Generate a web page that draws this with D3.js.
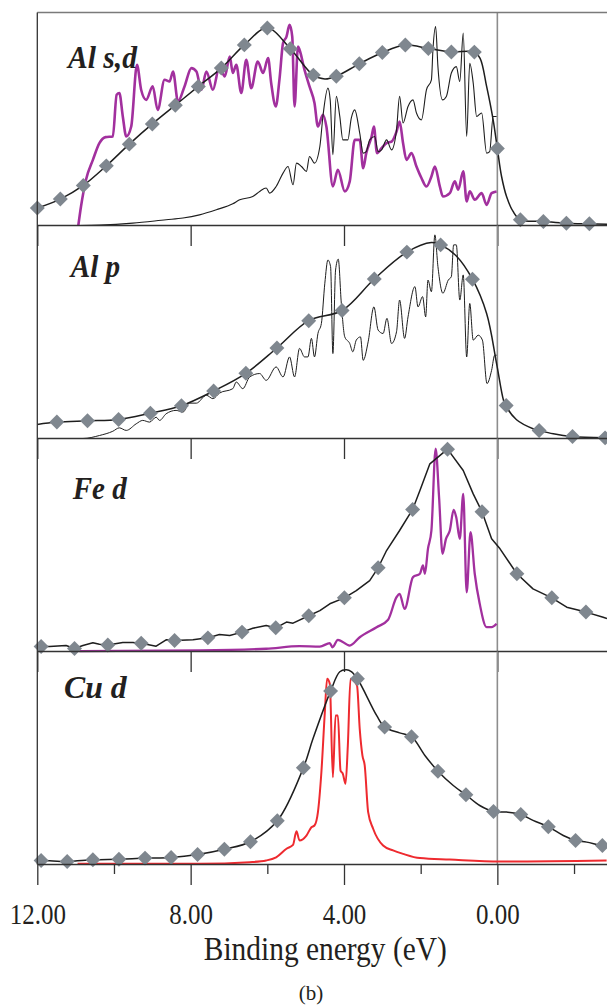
<!DOCTYPE html>
<html>
<head>
<meta charset="utf-8">
<script src="https://cdn.jsdelivr.net/npm/d3@7"></script>
<style>
  body { margin: 0; background: #fff; }
  svg { display: block; }
</style>
</head>
<body>
<div id="chart"></div>
<script>
// ---- data: [binding energy (eV), intensity (0..1 of panel height)] ----
var panelNames = ["Al s,d", "Al p", "Fe d", "Cu d"];
var tickMajor = [12, 8, 4, 0];
var tickMinor = [10, 6, 2, -2];
var axisTitle = "Binding energy (eV)";
var caption = "(b)";

// Al s,d
var alSdMarks = [[12,0.082],[11.4,0.124],[10.8,0.188],[10.2,0.280],[9.6,0.382],[9.0,0.477],[8.4,0.565],[7.8,0.653],[7.2,0.739],[6.6,0.848],[6.0,0.927],[5.4,0.830],[4.8,0.706],[4.2,0.701],[3.6,0.759],[3.0,0.812],[2.4,0.847],[1.8,0.831],[1.2,0.815],[0.6,0.814],[0,0.361],[-0.6,0.027],[-1.2,0.019],[-1.8,0.011],[-2.4,0.008]];
var alSdBroad = [[12,0.082],[11.4,0.124],[10.8,0.188],[10.2,0.280],[9.6,0.382],[9.0,0.477],[8.4,0.565],[7.8,0.653],[7.2,0.739],[6.6,0.848],[6.0,0.927],[5.4,0.830],[4.8,0.706],[4.5,0.688],[4.2,0.701],[3.6,0.759],[3.0,0.812],[2.4,0.847],[1.8,0.831],[1.2,0.815],[0.6,0.814],[0.45,0.785],[0.28,0.653],[0.11,0.496],[0,0.361],[-0.11,0.230],[-0.24,0.136],[-0.41,0.066],[-0.6,0.027],[-1.2,0.019],[-1.8,0.011],[-2.4,0.008],[-2.86,0.006]];
var alSdPurple = [[10.93,0.0],[10.86,0.089],[10.73,0.215],[10.55,0.308],[10.38,0.387],[10.22,0.415],[10.03,0.418],[9.93,0.614],[9.86,0.622],[9.77,0.512],[9.68,0.418],[9.55,0.465],[9.40,0.754],[9.29,0.636],[9.16,0.590],[8.99,0.653],[8.86,0.543],[8.68,0.684],[8.55,0.676],[8.46,0.723],[8.33,0.582],[8.16,0.653],[7.98,0.739],[7.85,0.723],[7.72,0.637],[7.59,0.723],[7.42,0.637],[7.25,0.746],[7.11,0.700],[6.98,0.793],[6.90,0.716],[6.81,0.754],[6.68,0.622],[6.55,0.778],[6.42,0.645],[6.25,0.770],[6.11,0.716],[5.98,0.786],[5.90,0.669],[5.78,0.559],[5.68,0.692],[5.59,0.856],[5.50,0.887],[5.42,0.942],[5.35,0.887],[5.29,0.559],[5.20,0.840],[5.16,0.825],[5.03,0.731],[4.90,0.653],[4.77,0.575],[4.68,0.465],[4.55,0.520],[4.46,0.465],[4.29,0.183],[4.16,0.262],[3.98,0.160],[3.85,0.207],[3.72,0.402],[3.59,0.402],[3.50,0.269],[3.42,0.340],[3.28,0.418],[3.22,0.465],[3.14,0.340],[3.02,0.363],[2.89,0.387],[2.76,0.394],[2.63,0.441],[2.55,0.488],[2.46,0.387],[2.37,0.308],[2.24,0.340],[2.11,0.277],[1.98,0.223],[1.85,0.183],[1.72,0.230],[1.63,0.277],[1.50,0.183],[1.42,0.136],[1.24,0.152],[1.11,0.207],[1.02,0.168],[0.89,0.254],[0.80,0.113],[0.72,0.160],[0.59,0.121],[0.41,0.152],[0.28,0.097],[0.15,0.152],[0.02,0.160]];
var alSdBlack = [[10.9,0.0],[10.38,0.002],[9.51,0.011],[8.64,0.027],[8.20,0.035],[7.77,0.050],[7.33,0.074],[6.90,0.102],[6.72,0.121],[6.38,0.136],[6.20,0.160],[6.03,0.176],[5.94,0.152],[5.77,0.183],[5.59,0.246],[5.46,0.277],[5.33,0.191],[5.24,0.293],[5.11,0.277],[4.98,0.254],[4.90,0.324],[4.77,0.293],[4.63,0.371],[4.55,0.512],[4.42,0.645],[4.36,0.590],[4.29,0.332],[4.20,0.606],[4.11,0.512],[4.03,0.402],[3.90,0.402],[3.81,0.504],[3.72,0.543],[3.59,0.434],[3.50,0.340],[3.42,0.347],[3.33,0.402],[3.20,0.418],[3.11,0.347],[3.02,0.355],[2.89,0.402],[2.76,0.355],[2.63,0.449],[2.55,0.606],[2.46,0.481],[2.33,0.559],[2.20,0.590],[2.11,0.528],[1.98,0.496],[1.85,0.637],[1.72,0.684],[1.68,0.825],[1.61,0.934],[1.55,0.746],[1.43,0.590],[1.33,0.606],[1.20,0.716],[1.07,0.746],[0.98,0.676],[0.89,0.903],[0.80,0.418],[0.72,0.762],[0.63,0.669],[0.54,0.512],[0.41,0.528],[0.28,0.340],[0.20,0.347],[0.11,0.512],[0.02,0.512]];

// Al p
var alPMarks = [[11.49,0.077],[10.69,0.083],[9.88,0.089],[9.05,0.119],[8.24,0.154],[7.40,0.223],[6.56,0.306],[5.75,0.425],[4.92,0.553],[4.05,0.601],[3.21,0.749],[2.36,0.875],[1.48,0.909],[0.65,0.748],[-0.23,0.155],[-1.09,0.038],[-1.96,0.009],[-2.81,0.003]];
var alPBroad = [[12.0,0.066],[11.49,0.077],[10.69,0.083],[9.88,0.089],[9.05,0.119],[8.24,0.154],[7.40,0.223],[6.56,0.306],[5.75,0.425],[4.92,0.553],[4.05,0.601],[3.21,0.749],[2.36,0.875],[1.72,0.920],[1.48,0.909],[1.07,0.857],[0.65,0.748],[0.28,0.587],[0.02,0.352],[-0.16,0.180],[-0.23,0.150],[-0.50,0.088],[-0.93,0.046],[-1.09,0.038],[-1.46,0.022],[-1.96,0.009],[-2.81,0.003],[-2.86,0.003]];
var alPThin = [[10.9,0.0],[10.81,0.0],[10.38,0.014],[10.03,0.034],[9.86,0.050],[9.68,0.038],[9.42,0.069],[9.25,0.085],[9.07,0.077],[8.90,0.100],[8.81,0.085],[8.64,0.116],[8.38,0.132],[8.20,0.124],[8.03,0.166],[7.85,0.166],[7.59,0.203],[7.42,0.187],[7.25,0.213],[6.90,0.234],[6.81,0.265],[6.64,0.234],[6.46,0.289],[6.20,0.305],[6.03,0.273],[5.77,0.336],[5.59,0.289],[5.42,0.383],[5.29,0.289],[5.16,0.423],[5.03,0.383],[4.94,0.383],[4.85,0.470],[4.77,0.383],[4.68,0.493],[4.59,0.540],[4.50,0.729],[4.42,0.838],[4.35,0.807],[4.29,0.399],[4.22,0.791],[4.15,0.842],[4.07,0.634],[3.98,0.477],[3.85,0.446],[3.77,0.407],[3.68,0.462],[3.57,0.477],[3.50,0.367],[3.37,0.454],[3.22,0.618],[3.11,0.509],[2.98,0.493],[2.88,0.564],[2.76,0.446],[2.63,0.501],[2.55,0.650],[2.42,0.470],[2.33,0.571],[2.15,0.713],[2.07,0.618],[1.95,0.666],[1.87,0.571],[1.81,0.744],[1.72,0.689],[1.63,0.956],[1.55,0.807],[1.42,0.682],[1.28,0.744],[1.20,0.760],[1.14,0.909],[1.07,0.909],[0.98,0.650],[0.89,0.768],[0.80,0.383],[0.72,0.634],[0.63,0.462],[0.50,0.485],[0.39,0.462],[0.27,0.258],[0.15,0.320],[0.07,0.391],[0.02,0.391]];

// Fe d
var feMarks = [[11.9,0.023],[11.03,0.014],[10.16,0.031],[9.29,0.039],[8.42,0.052],[7.55,0.064],[6.66,0.091],[5.78,0.111],[4.92,0.168],[3.99,0.252],[3.11,0.393],[2.21,0.667],[1.30,0.950],[0.40,0.656],[-0.51,0.365],[-1.42,0.252],[-2.31,0.185]];
var feBroad = [[12.0,0.017],[11.9,0.023],[11.68,0.023],[11.25,0.028],[11.03,0.014],[10.81,0.028],[10.55,0.041],[10.38,0.034],[10.16,0.031],[9.77,0.042],[9.51,0.042],[9.29,0.039],[8.90,0.025],[8.64,0.055],[8.42,0.052],[7.94,0.055],[7.55,0.064],[7.25,0.080],[6.98,0.075],[6.66,0.091],[6.38,0.109],[6.03,0.122],[5.78,0.111],[5.50,0.138],[5.33,0.133],[4.92,0.168],[4.63,0.192],[4.37,0.224],[3.99,0.252],[3.68,0.286],[3.33,0.333],[3.11,0.393],[2.89,0.474],[2.55,0.568],[2.21,0.667],[2.02,0.756],[1.76,0.881],[1.30,0.950],[0.89,0.850],[0.63,0.740],[0.40,0.656],[0.15,0.529],[-0.07,0.482],[-0.51,0.365],[-0.93,0.294],[-1.42,0.252],[-1.81,0.208],[-2.31,0.185],[-2.76,0.161],[-2.86,0.155]];
var fePurple = [[10.9,0.002],[7.77,0.005],[6.03,0.013],[5.16,0.025],[4.63,0.023],[4.37,0.039],[4.30,0.020],[4.16,0.055],[3.85,0.028],[3.59,0.067],[3.15,0.114],[2.85,0.149],[2.63,0.255],[2.55,0.271],[2.42,0.200],[2.20,0.349],[2.02,0.365],[1.94,0.404],[1.89,0.365],[1.81,0.482],[1.72,0.568],[1.61,0.952],[1.52,0.724],[1.43,0.459],[1.34,0.529],[1.24,0.568],[1.14,0.665],[1.07,0.628],[0.98,0.529],[0.89,0.740],[0.80,0.278],[0.70,0.560],[0.59,0.365],[0.46,0.224],[0.28,0.114],[0.15,0.114],[0.02,0.130]];

// Cu d
var cuMarks = [[11.9,0.019],[11.22,0.014],[10.55,0.022],[9.87,0.025],[9.19,0.030],[8.51,0.033],[7.82,0.047],[7.12,0.072],[6.44,0.107],[5.74,0.205],[5.06,0.454],[4.35,0.814],[3.65,0.872],[2.94,0.645],[2.24,0.600],[1.55,0.438],[0.82,0.327],[0.10,0.249],[-0.61,0.235],[-1.33,0.177],[-2.04,0.113],[-2.74,0.089]];
var cuBroad = [[12.0,0.015],[11.9,0.019],[11.22,0.014],[10.55,0.022],[9.87,0.025],[9.19,0.030],[8.51,0.033],[7.82,0.047],[7.12,0.072],[6.44,0.107],[5.74,0.205],[5.06,0.454],[4.81,0.590],[4.35,0.814],[4.11,0.905],[3.94,0.914],[3.81,0.906],[3.65,0.872],[3.15,0.700],[2.94,0.645],[2.55,0.618],[2.24,0.600],[1.89,0.512],[1.55,0.438],[1.15,0.371],[0.82,0.327],[0.46,0.277],[0.10,0.249],[-0.24,0.246],[-0.61,0.235],[-0.93,0.207],[-1.33,0.177],[-1.72,0.136],[-2.04,0.113],[-2.33,0.105],[-2.74,0.089],[-2.86,0.089]];
var cuRed = [[10.95,0.003],[7.77,0.003],[6.46,0.011],[6.03,0.019],[5.77,0.034],[5.50,0.074],[5.33,0.092],[5.24,0.156],[5.16,0.113],[4.98,0.136],[4.85,0.175],[4.77,0.183],[4.68,0.246],[4.59,0.433],[4.50,0.715],[4.44,0.872],[4.37,0.848],[4.29,0.410],[4.22,0.700],[4.16,0.700],[4.09,0.441],[4.03,0.426],[3.96,0.379],[3.90,0.559],[3.83,0.872],[3.75,0.864],[3.66,0.840],[3.59,0.637],[3.52,0.512],[3.46,0.465],[3.37,0.246],[3.24,0.168],[2.98,0.089],[2.72,0.066],[2.46,0.050],[2.02,0.030],[1.24,0.023],[-0.07,0.014],[-2.85,0.019]];

// ---- layout ----
var W = 607, H = 1006;
var left = 37.3, panelTop0 = 12.5, panelH = 213;
var black = "#1e1e1e", purple = "#a2309e", red = "#ee2a2f", markGrey = "#7f878f";

var panels = [
  {name: panelNames[0], labelX: 68, labelDy: 55.5, labelW: 69,
   curves: [{data: alSdPurple, color: purple, width: 2.6}, {data: alSdBlack, color: black, width: 1.1}],
   broad: alSdBroad, marks: alSdMarks, smooth: true},
  {name: panelNames[1], labelX: 70.7, labelDy: 51.2, labelW: 49.5,
   curves: [{data: alPThin, color: black, width: 1}],
   broad: alPBroad, marks: alPMarks, smooth: true},
  {name: panelNames[2], labelX: 72.7, labelDy: 60.8, labelW: 54,
   curves: [{data: fePurple, color: purple, width: 2.3}],
   broad: feBroad, marks: feMarks, smooth: false},
  {name: panelNames[3], labelX: 64, labelDy: 46.8, labelW: 62.7,
   curves: [{data: cuRed, color: red, width: 2}],
   broad: cuBroad, marks: cuMarks, smooth: true}
];

var x = d3.scaleLinear().domain([12, -2.86]).range([left, W]);

var svg = d3.select("#chart").append("svg")
  .attr("width", W).attr("height", H)
  .style("background", "#fff");

var bottomY = panelTop0 + panels.length * panelH;

panels.forEach(function (p, i) {
  var top = panelTop0 + i * panelH;
  var y = d3.scaleLinear().domain([0, 1]).range([top + panelH, top]);
  var g = svg.append("g").attr("class", "panel");

  // zero-energy line
  g.append("line")
    .attr("x1", x(0)).attr("x2", x(0))
    .attr("y1", top).attr("y2", top + panelH)
    .attr("stroke", "#8d8d8d").attr("stroke-width", 1.6);

  var line = d3.line()
    .x(function (d) { return x(d[0]); })
    .y(function (d) { return y(d[1]); });

  p.curves.forEach(function (c) {
    g.append("path")
      .datum(c.data)
      .attr("d", line.curve(d3.curveMonotoneX))
      .attr("fill", "none")
      .attr("stroke", c.color)
      .attr("stroke-width", c.width)
      .attr("stroke-linejoin", "round");
  });

  g.append("path")
    .datum(p.broad)
    .attr("d", line.curve(p.smooth ? d3.curveCatmullRom.alpha(0.5) : d3.curveLinear))
    .attr("fill", "none")
    .attr("stroke", black)
    .attr("stroke-width", 1.5)
    .attr("stroke-linejoin", "round");

  g.selectAll("path.mark").data(p.marks).enter().append("path")
    .attr("class", "mark")
    .attr("d", d3.symbol(d3.symbolSquare, 112))
    .attr("transform", function (d) { return "translate(" + x(d[0]) + "," + y(d[1]) + ") rotate(45)"; })
    .attr("fill", markGrey);

  g.append("text")
    .attr("x", p.labelX).attr("y", top + p.labelDy)
    .attr("font-family", "Liberation Serif, Times New Roman, serif")
    .attr("font-weight", "bold").attr("font-style", "italic")
    .attr("font-size", 32)
    .attr("fill", "#231f20")
    .attr("textLength", p.labelW).attr("lengthAdjust", "spacingAndGlyphs")
    .text(p.name);

  // x-axis of this panel (ticks hang into the panel below)
  if (i < panels.length - 1) {
    svg.append("g")
      .attr("transform", "translate(0," + (top + panelH - 0.5) + ")")
      .call(d3.axisBottom(x).tickValues(tickMajor).tickSize(21).tickSizeOuter(0).tickFormat(""))
      .call(function (a) { a.selectAll("path, line").attr("stroke", "#333").attr("stroke-width", 1.3); });
  }
});

// top border and left axis
svg.append("line")
  .attr("x1", left).attr("x2", W).attr("y1", panelTop0).attr("y2", panelTop0)
  .attr("stroke", "#7a7a7a").attr("stroke-width", 1.3);
svg.append("line")
  .attr("x1", left).attr("x2", left).attr("y1", panelTop0).attr("y2", bottomY)
  .attr("stroke", "#333").attr("stroke-width", 1.3);

// bottom axis
svg.append("g")
  .attr("transform", "translate(0," + (bottomY - 0.5) + ")")
  .call(d3.axisBottom(x).tickValues(tickMinor).tickSize(10).tickSizeOuter(0).tickFormat(""))
  .call(function (a) {
    a.select(".domain").remove();
    a.selectAll("line").attr("stroke", "#333").attr("stroke-width", 1.3);
  });

var axisG = svg.append("g")
  .attr("transform", "translate(0," + (bottomY - 0.5) + ")")
  .call(d3.axisBottom(x).tickValues(tickMajor).tickSize(21).tickSizeOuter(0).tickFormat(d3.format(".2f")));
axisG.selectAll("path, line").attr("stroke", "#333").attr("stroke-width", 1.3);
axisG.selectAll("text")
  .attr("y", 60).attr("dy", 0)
  .attr("font-family", "Liberation Serif, Times New Roman, serif")
  .attr("font-size", 29)
  .attr("fill", "#231f20")
  .each(function () {
    var w = this.getComputedTextLength();
    d3.select(this).attr("textLength", w * 0.86).attr("lengthAdjust", "spacingAndGlyphs");
  });

svg.append("text")
  .attr("x", 325.3).attr("y", 960)
  .attr("text-anchor", "middle")
  .attr("font-family", "Liberation Serif, Times New Roman, serif")
  .attr("font-size", 33)
  .attr("fill", "#231f20")
  .attr("textLength", 243).attr("lengthAdjust", "spacingAndGlyphs")
  .text(axisTitle);

svg.append("text")
  .attr("x", 311).attr("y", 1000)
  .attr("text-anchor", "middle")
  .attr("font-family", "Liberation Serif, Times New Roman, serif")
  .attr("font-size", 21)
  .attr("fill", "#231f20")
  .text(caption);
</script>
</body>
</html>
